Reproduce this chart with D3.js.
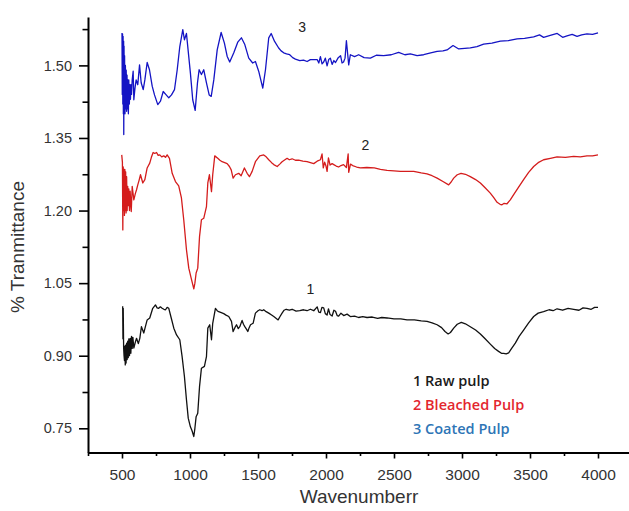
<!DOCTYPE html>
<html>
<head>
<meta charset="utf-8">
<script src="https://cdn.jsdelivr.net/npm/d3@7"></script>
<style>
  body { margin: 0; background: #fff; }
  svg { display: block; }
  .axis text { font-family: 'Liberation Sans', Arial, sans-serif; fill: #333; }
  .axis path, .axis line { stroke: #000; }
  .axis-title { font-family: 'Liberation Sans', Arial, sans-serif; fill: #333; }
  .legend-label { font-family: 'Open Sans', sans-serif; font-weight: 600; }
</style>
</head>
<body>
<svg id="chart"></svg>
<script>
// wavenumber (cm-1), transmittance
const rawPulp = [
  [505, 1.002], [507, 0.935], [509, 0.998], [512, 0.916], [515, 0.900], [518, 0.890], [521, 0.920],
  [524, 0.881], [527, 0.922], [530, 0.885], [534, 0.926], [538, 0.892], [542, 0.930], [546, 0.896],
  [550, 0.935], [555, 0.900], [560, 0.936], [565, 0.905], [570, 0.940], [575, 0.915], [580, 0.938],
  [587, 0.916], [600, 0.930], [607, 0.936], [620, 0.925], [631, 0.936], [643, 0.960], [660, 0.947],
  [672, 0.960], [685, 0.974], [704, 0.978], [726, 0.998], [746, 1.005], [758, 0.999], [770, 0.998],
  [782, 1.001], [795, 0.998], [808, 0.996], [820, 0.995], [832, 1.000], [844, 0.998], [862, 0.978],
  [881, 0.957], [901, 0.943], [925, 0.933], [942, 0.898], [959, 0.857], [974, 0.809], [987, 0.771],
  [1003, 0.753], [1015, 0.745], [1028, 0.733], [1036, 0.750], [1045, 0.774], [1057, 0.781],
  [1070, 0.836], [1084, 0.874], [1106, 0.878], [1121, 0.898], [1131, 0.957], [1145, 0.964],
  [1158, 0.933], [1167, 0.967], [1187, 0.998], [1200, 0.993], [1211, 0.991], [1230, 0.989],
  [1248, 0.987], [1265, 0.984], [1285, 0.981], [1305, 0.971], [1317, 0.950], [1330, 0.958],
  [1342, 0.964], [1355, 0.956], [1366, 0.960], [1383, 0.973], [1393, 0.965], [1403, 0.960],
  [1415, 0.955], [1425, 0.950], [1435, 0.958], [1445, 0.964], [1464, 0.967], [1481, 0.988],
  [1500, 0.993], [1513, 0.995], [1530, 0.993], [1542, 0.995], [1560, 0.991], [1579, 0.988],
  [1600, 0.984], [1616, 0.981], [1630, 0.978], [1648, 0.974], [1662, 0.981], [1677, 0.988],
  [1692, 0.994], [1707, 0.996], [1730, 0.994], [1751, 0.996], [1780, 0.992], [1807, 0.993],
  [1835, 0.995], [1861, 0.993], [1885, 0.996], [1910, 0.993], [1935, 1.001], [1947, 0.990],
  [1959, 0.989], [1970, 1.000], [1983, 0.999], [1995, 0.987], [2008, 0.984], [2018, 0.997],
  [2030, 0.985], [2045, 0.982], [2058, 0.994], [2070, 0.992], [2082, 0.983], [2093, 0.982],
  [2110, 0.988], [2130, 0.983], [2155, 0.986], [2179, 0.981], [2210, 0.982], [2240, 0.979],
  [2270, 0.981], [2302, 0.979], [2340, 0.980], [2380, 0.977], [2410, 0.979], [2449, 0.978],
  [2500, 0.976], [2550, 0.976], [2596, 0.974], [2650, 0.974], [2700, 0.972], [2743, 0.971],
  [2780, 0.968], [2817, 0.964], [2850, 0.958], [2875, 0.950], [2898, 0.945], [2915, 0.948],
  [2939, 0.957], [2965, 0.965], [2995, 0.969], [3025, 0.966], [3061, 0.960], [3100, 0.953],
  [3135, 0.945], [3170, 0.935], [3208, 0.924], [3240, 0.915], [3269, 0.909], [3290, 0.905],
  [3306, 0.905], [3325, 0.904], [3343, 0.906], [3365, 0.915], [3392, 0.926], [3420, 0.940],
  [3453, 0.953], [3490, 0.968], [3527, 0.981], [3560, 0.988], [3600, 0.991], [3640, 0.995],
  [3670, 0.993], [3699, 0.997], [3740, 0.994], [3780, 0.998], [3821, 0.996], [3860, 0.994],
  [3890, 0.999], [3919, 0.998], [3950, 0.996], [3975, 1.000], [4000, 1.000]
];

const bleachedPulp = [
  [498, 1.315], [503, 1.300], [506, 1.160], [509, 1.290], [512, 1.200], [515, 1.285], [518, 1.190],
  [521, 1.285], [524, 1.200], [527, 1.280], [530, 1.195], [534, 1.270], [538, 1.200], [542, 1.250],
  [546, 1.210], [550, 1.245], [555, 1.200], [560, 1.240], [565, 1.210], [568, 1.198], [575, 1.250],
  [587, 1.222], [598, 1.235], [607, 1.243], [616, 1.253], [625, 1.262], [636, 1.274], [653, 1.257],
  [668, 1.264], [685, 1.288], [704, 1.298], [716, 1.310], [729, 1.320], [741, 1.318], [754, 1.320],
  [766, 1.314], [778, 1.315], [792, 1.311], [807, 1.313], [820, 1.310], [832, 1.315], [849, 1.308],
  [869, 1.277], [893, 1.260], [917, 1.251], [937, 1.226], [954, 1.181], [974, 1.119], [991, 1.081],
  [1009, 1.060], [1028, 1.038], [1036, 1.050], [1045, 1.071], [1057, 1.081], [1070, 1.146],
  [1084, 1.181], [1101, 1.184], [1121, 1.208], [1131, 1.257], [1143, 1.274], [1158, 1.239],
  [1167, 1.274], [1182, 1.313], [1204, 1.308], [1220, 1.304], [1236, 1.301], [1255, 1.299],
  [1273, 1.297], [1290, 1.291], [1303, 1.284], [1317, 1.267], [1334, 1.274], [1358, 1.277],
  [1376, 1.272], [1400, 1.288], [1420, 1.277], [1437, 1.270], [1457, 1.281], [1481, 1.301],
  [1513, 1.313], [1542, 1.315], [1560, 1.311], [1579, 1.305], [1600, 1.299], [1616, 1.295],
  [1641, 1.291], [1660, 1.296], [1677, 1.301], [1714, 1.308], [1730, 1.305], [1751, 1.307],
  [1775, 1.304], [1799, 1.304], [1830, 1.302], [1861, 1.301], [1885, 1.299], [1910, 1.297],
  [1935, 1.302], [1959, 1.305], [1971, 1.317], [1980, 1.288], [1990, 1.300], [2000, 1.292],
  [2008, 1.281], [2018, 1.309], [2030, 1.294], [2045, 1.297], [2057, 1.295], [2075, 1.292],
  [2093, 1.290], [2110, 1.293], [2129, 1.295], [2150, 1.289], [2163, 1.317], [2167, 1.279],
  [2180, 1.296], [2196, 1.293], [2225, 1.290], [2253, 1.288], [2300, 1.289], [2355, 1.288],
  [2400, 1.285], [2449, 1.283], [2500, 1.282], [2547, 1.281], [2600, 1.281], [2645, 1.281],
  [2700, 1.278], [2743, 1.276], [2780, 1.272], [2817, 1.267], [2860, 1.260], [2902, 1.253],
  [2920, 1.259], [2939, 1.267], [2965, 1.274], [2993, 1.277], [3025, 1.275], [3061, 1.270],
  [3100, 1.264], [3135, 1.257], [3170, 1.247], [3208, 1.236], [3235, 1.226], [3258, 1.217],
  [3280, 1.213], [3294, 1.212], [3310, 1.215], [3331, 1.214], [3355, 1.222], [3380, 1.233],
  [3415, 1.248], [3453, 1.264], [3490, 1.279], [3527, 1.291], [3560, 1.299], [3600, 1.305],
  [3650, 1.308], [3699, 1.311], [3760, 1.310], [3821, 1.312], [3870, 1.311], [3919, 1.313],
  [3960, 1.313], [4000, 1.315]
];

const coatedPulp = [
  [500, 1.567], [502, 1.440], [504, 1.565], [506, 1.420], [508, 1.560], [510, 1.400], [512, 1.550],
  [513, 1.357], [515, 1.540], [517, 1.410], [519, 1.520], [522, 1.400], [525, 1.500], [528, 1.410],
  [531, 1.490], [534, 1.405], [537, 1.480], [540, 1.410], [543, 1.470], [547, 1.400], [550, 1.470],
  [554, 1.420], [558, 1.460], [562, 1.430], [566, 1.460], [570, 1.440], [575, 1.470], [582, 1.488],
  [587, 1.429], [595, 1.452], [604, 1.470], [616, 1.460], [629, 1.501], [641, 1.464], [656, 1.450],
  [668, 1.470], [685, 1.506], [702, 1.491], [722, 1.457], [739, 1.439], [763, 1.419], [783, 1.426],
  [803, 1.446], [825, 1.439], [844, 1.433], [864, 1.439], [886, 1.450], [906, 1.491], [925, 1.539],
  [947, 1.574], [959, 1.553], [974, 1.566], [987, 1.529], [1003, 1.484], [1020, 1.429],
  [1038, 1.407], [1055, 1.464], [1067, 1.491], [1084, 1.481], [1101, 1.491], [1121, 1.464],
  [1141, 1.439], [1156, 1.436], [1175, 1.470], [1200, 1.532], [1229, 1.568], [1253, 1.546],
  [1273, 1.519], [1292, 1.507], [1322, 1.526], [1351, 1.548], [1378, 1.557], [1403, 1.543],
  [1432, 1.515], [1461, 1.505], [1481, 1.508], [1505, 1.488], [1535, 1.453], [1555, 1.491],
  [1579, 1.557], [1597, 1.566], [1621, 1.550], [1652, 1.536], [1670, 1.530], [1689, 1.526],
  [1710, 1.524], [1733, 1.522], [1755, 1.516], [1775, 1.513], [1807, 1.510], [1835, 1.511],
  [1861, 1.508], [1885, 1.512], [1910, 1.512], [1935, 1.512], [1947, 1.505], [1959, 1.518],
  [1971, 1.503], [1983, 1.507], [1995, 1.515], [2008, 1.499], [2020, 1.512], [2032, 1.515],
  [2045, 1.502], [2058, 1.510], [2070, 1.506], [2090, 1.516], [2107, 1.520], [2118, 1.505],
  [2129, 1.507], [2140, 1.515], [2150, 1.551], [2167, 1.501], [2179, 1.522], [2210, 1.518],
  [2240, 1.522], [2280, 1.516], [2326, 1.515], [2370, 1.521], [2424, 1.520], [2480, 1.522],
  [2534, 1.527], [2580, 1.522], [2620, 1.524], [2670, 1.520], [2718, 1.522], [2770, 1.526],
  [2817, 1.529], [2860, 1.530], [2890, 1.532], [2934, 1.541], [2976, 1.534], [3020, 1.535],
  [3061, 1.536], [3110, 1.539], [3159, 1.544], [3220, 1.546], [3282, 1.550], [3340, 1.551],
  [3405, 1.555], [3460, 1.556], [3527, 1.559], [3570, 1.563], [3600, 1.558], [3649, 1.562],
  [3700, 1.566], [3740, 1.558], [3772, 1.561], [3810, 1.564], [3846, 1.560], [3880, 1.563],
  [3919, 1.565], [3960, 1.564], [4000, 1.567]
];

const xMajorTicks = [500, 1000, 1500, 2000, 2500, 3000, 3500, 4000];
const xMinorTicks = [250, 750, 1250, 1750, 2250, 2750, 3250, 3750, 4250];
const yMajorTicks = [0.75, 0.90, 1.05, 1.20, 1.35, 1.50];
const yMinorTicks = [0.825, 0.975, 1.125, 1.275, 1.425, 1.575];

const seriesNames = ['1 Raw pulp', '2 Bleached Pulp', '3 Coated Pulp'];
const seriesTags = ['1', '2', '3'];
// where the curve numbers sit, in data units
const tagWavenumber = [1885, 2290, 1824];
const tagValue = [1.028, 1.326, 1.568];

const width = 629;
const height = 511;

const svg = d3.select('#chart')
  .attr('width', width)
  .attr('height', height);

const xScale = d3.scaleLinear()
  .domain([250, 4250])
  .range([88, 632]);

const yScale = d3.scaleLinear()
  .domain([0.70, 1.60])
  .range([452.5, 17]);

// axes: major ticks with labels, minor ticks without
svg.append('g')
  .attr('class', 'axis x-axis')
  .attr('transform', `translate(0,${yScale.range()[0]})`)
  .call(d3.axisBottom(xScale).tickValues(xMinorTicks).tickSize(3.5).tickSizeOuter(0).tickFormat(''))
  .call((g) => g.select('.domain').remove());

const xAxisG = svg.append('g')
  .attr('class', 'axis x-axis')
  .attr('transform', `translate(0,${yScale.range()[0]})`)
  .call(d3.axisBottom(xScale).tickValues(xMajorTicks).tickSize(6).tickSizeOuter(0)
    .tickPadding(10).tickFormat(d3.format('d')));
xAxisG.selectAll('text').style('font-size', '15.5px');

svg.append('g')
  .attr('class', 'axis y-axis')
  .attr('transform', `translate(${xScale.range()[0]},0)`)
  .call(d3.axisLeft(yScale).tickValues(yMinorTicks).tickSize(5.5).tickSizeOuter(0).tickFormat(''))
  .call((g) => g.select('.domain').remove());

const yAxisG = svg.append('g')
  .attr('class', 'axis y-axis')
  .attr('transform', `translate(${xScale.range()[0]},0)`)
  .call(d3.axisLeft(yScale).tickValues(yMajorTicks).tickSize(9).tickSizeOuter(0)
    .tickPadding(7).tickFormat(d3.format('.2f')));
yAxisG.selectAll('text').style('font-size', '14.5px');

svg.selectAll('.axis line').attr('stroke-width', 1.6);
svg.selectAll('.axis .domain').attr('stroke-width', 2);

// axis titles
svg.append('text')
  .attr('class', 'axis-title')
  .attr('x', 359)
  .attr('y', 503)
  .attr('text-anchor', 'middle')
  .style('font-size', '19px')
  .text('Wavenumberr');

svg.append('text')
  .attr('class', 'axis-title')
  .attr('transform', 'translate(24,247) rotate(-90)')
  .attr('text-anchor', 'middle')
  .style('font-size', '19px')
  .text('% Tranmittance');

// spectra
const line = d3.line()
  .x((d) => xScale(d[0]))
  .y((d) => yScale(d[1]));

const curves = [
  { data: rawPulp, color: '#111111' },
  { data: bleachedPulp, color: '#d41c1c' },
  { data: coatedPulp, color: '#1414c4' },
];

svg.append('g')
  .selectAll('path')
  .data(curves)
  .join('path')
  .attr('d', (d) => line(d.data))
  .attr('fill', 'none')
  .attr('stroke', (d) => d.color)
  .attr('stroke-width', 1.3)
  .attr('stroke-linejoin', 'round');

// curve numbers
svg.selectAll('.tag')
  .data(seriesTags)
  .join('text')
  .attr('class', 'tag')
  .attr('x', (d, i) => xScale(tagWavenumber[i]))
  .attr('y', (d, i) => yScale(tagValue[i]))
  .attr('text-anchor', 'middle')
  .style('font-family', "'Liberation Sans', Arial, sans-serif")
  .style('font-size', '14px')
  .style('fill', '#222')
  .text((d) => d);

// legend
const legendColors = ['#1a1a1a', '#e3262e', '#2e75b6'];
svg.selectAll('.legend-label')
  .data(seriesNames)
  .join('text')
  .attr('class', 'legend-label')
  .attr('x', 413)
  .attr('y', (d, i) => 386 + i * 24)
  .style('font-size', '14.5px')
  .style('fill', (d, i) => legendColors[i])
  .text((d) => d);
</script>
</body>
</html>
